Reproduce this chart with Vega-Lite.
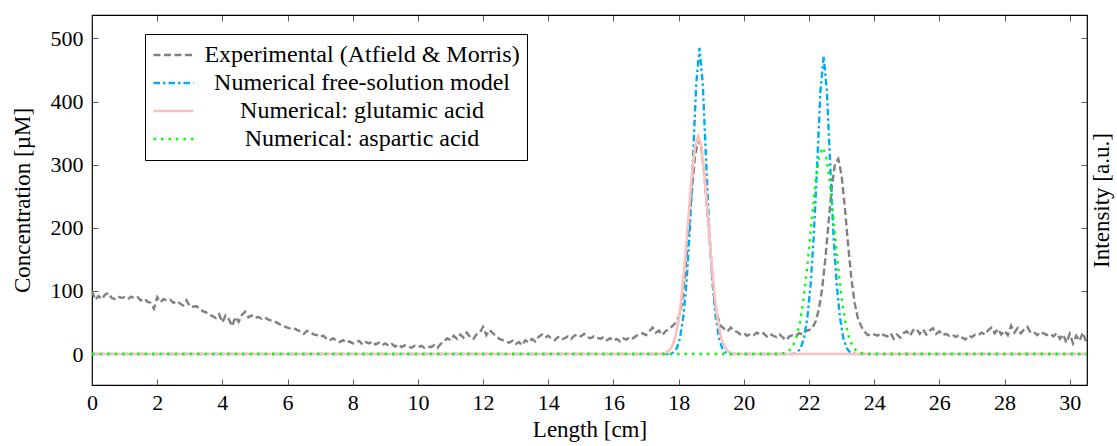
{
  "$schema": "https://vega.github.io/schema/vega-lite/v6.json",
  "width": 995,
  "height": 370,
  "autosize": {"type": "none"},
  "padding": {"left": 92, "top": 15, "right": 30, "bottom": 61},
  "background": "white",
  "config": {
    "font": "Liberation Serif",
    "view": {"stroke": "black", "strokeWidth": 1.2},
    "axis": {
      "labelFont": "Liberation Serif", "labelFontSize": 22, "labelColor": "black",
      "titleFont": "Liberation Serif", "titleFontSize": 23, "titleFontWeight": "normal", "titleColor": "black",
      "tickColor": "#333", "tickSize": -6, "tickWidth": 0.8, "domain": false, "grid": false, "labelFlush": false
    }
  },
  "datasets": {
    "exp": [
      {"x":0.0,"y":100},{"x":0.1,"y":86},{"x":0.2,"y":92},{"x":0.3,"y":87},{"x":0.4,"y":94},{"x":0.5,"y":97},{"x":0.6,"y":89},{"x":0.7,"y":87},{"x":0.8,"y":91},{"x":0.9,"y":89},
      {"x":1.0,"y":90},{"x":1.1,"y":87},{"x":1.2,"y":91},{"x":1.3,"y":88},{"x":1.4,"y":90},{"x":1.5,"y":85},{"x":1.6,"y":88},{"x":1.7,"y":83},{"x":1.8,"y":81},{"x":1.9,"y":72},
      {"x":2.0,"y":90},{"x":2.1,"y":82},{"x":2.2,"y":87},{"x":2.3,"y":85},{"x":2.4,"y":86},{"x":2.5,"y":81},{"x":2.6,"y":84},{"x":2.7,"y":80},{"x":2.8,"y":77},{"x":2.9,"y":85},
      {"x":3.0,"y":76},{"x":3.1,"y":75},{"x":3.2,"y":76},{"x":3.3,"y":72},{"x":3.4,"y":68},{"x":3.5,"y":66},{"x":3.6,"y":62},{"x":3.7,"y":60},{"x":3.8,"y":57},{"x":3.9,"y":63},
      {"x":4.0,"y":50},{"x":4.1,"y":61},{"x":4.2,"y":55},{"x":4.3,"y":44},{"x":4.4,"y":59},{"x":4.5,"y":51},{"x":4.6,"y":62},{"x":4.7,"y":67},{"x":4.8,"y":58},{"x":4.9,"y":61},
      {"x":5.0,"y":57},{"x":5.1,"y":59},{"x":5.2,"y":56},{"x":5.3,"y":58},{"x":5.4,"y":55},{"x":5.5,"y":53},{"x":5.6,"y":52},{"x":5.7,"y":49},{"x":5.8,"y":46},{"x":5.9,"y":44},
      {"x":6.0,"y":42},{"x":6.1,"y":40},{"x":6.2,"y":41},{"x":6.3,"y":38},{"x":6.4,"y":36},{"x":6.5,"y":32},{"x":6.6,"y":37},{"x":6.7,"y":35},{"x":6.8,"y":31},{"x":6.9,"y":30},
      {"x":7.0,"y":27},{"x":7.1,"y":29},{"x":7.2,"y":24},{"x":7.3,"y":22},{"x":7.4,"y":25},{"x":7.5,"y":21},{"x":7.6,"y":19},{"x":7.7,"y":22},{"x":7.8,"y":18},{"x":7.9,"y":20},
      {"x":8.0,"y":17},{"x":8.1,"y":19},{"x":8.2,"y":21},{"x":8.3,"y":15},{"x":8.4,"y":19},{"x":8.5,"y":17},{"x":8.6,"y":20},{"x":8.7,"y":15},{"x":8.8,"y":18},{"x":8.9,"y":14},
      {"x":9.0,"y":17},{"x":9.1,"y":13},{"x":9.2,"y":16},{"x":9.3,"y":12},{"x":9.4,"y":15},{"x":9.5,"y":11},{"x":9.6,"y":14},{"x":9.7,"y":12},{"x":9.8,"y":10},{"x":9.9,"y":13},
      {"x":10.0,"y":11},{"x":10.1,"y":13},{"x":10.2,"y":10},{"x":10.3,"y":12},{"x":10.4,"y":11},{"x":10.5,"y":14},{"x":10.6,"y":10},{"x":10.7,"y":16},{"x":10.8,"y":20},{"x":10.9,"y":25},
      {"x":11.0,"y":22},{"x":11.1,"y":29},{"x":11.2,"y":24},{"x":11.3,"y":31},{"x":11.4,"y":26},{"x":11.5,"y":34},{"x":11.6,"y":27},{"x":11.7,"y":24},{"x":11.8,"y":31},{"x":11.9,"y":34},
      {"x":12.0,"y":43},{"x":12.1,"y":30},{"x":12.2,"y":38},{"x":12.3,"y":33},{"x":12.4,"y":28},{"x":12.5,"y":24},{"x":12.6,"y":22},{"x":12.7,"y":20},{"x":12.8,"y":18},{"x":12.9,"y":21},
      {"x":13.0,"y":16},{"x":13.1,"y":19},{"x":13.2,"y":14},{"x":13.3,"y":22},{"x":13.4,"y":18},{"x":13.5,"y":24},{"x":13.6,"y":20},{"x":13.7,"y":27},{"x":13.8,"y":31},{"x":13.9,"y":26},
      {"x":14.0,"y":29},{"x":14.1,"y":24},{"x":14.2,"y":22},{"x":14.3,"y":27},{"x":14.4,"y":23},{"x":14.5,"y":25},{"x":14.6,"y":28},{"x":14.7,"y":24},{"x":14.8,"y":29},{"x":14.9,"y":31},
      {"x":15.0,"y":28},{"x":15.1,"y":32},{"x":15.2,"y":27},{"x":15.3,"y":25},{"x":15.4,"y":28},{"x":15.5,"y":26},{"x":15.6,"y":24},{"x":15.7,"y":27},{"x":15.8,"y":22},{"x":15.9,"y":25},
      {"x":16.0,"y":21},{"x":16.1,"y":24},{"x":16.2,"y":20},{"x":16.3,"y":25},{"x":16.4,"y":23},{"x":16.5,"y":27},{"x":16.6,"y":25},{"x":16.7,"y":29},{"x":16.8,"y":31},{"x":16.9,"y":33},
      {"x":17.0,"y":30},{"x":17.1,"y":36},{"x":17.2,"y":42},{"x":17.3,"y":34},{"x":17.4,"y":37},{"x":17.5,"y":30},{"x":17.6,"y":36},{"x":17.7,"y":40},{"x":17.8,"y":44},{"x":17.9,"y":49},
      {"x":18.0,"y":58},{"x":18.1,"y":80},{"x":18.2,"y":129},{"x":18.3,"y":189},{"x":18.4,"y":255},{"x":18.5,"y":312},{"x":18.6,"y":339},{"x":18.7,"y":325},{"x":18.8,"y":279},{"x":18.9,"y":213},
      {"x":19.0,"y":148},{"x":19.1,"y":85},{"x":19.2,"y":58},{"x":19.3,"y":44},{"x":19.4,"y":40},{"x":19.5,"y":36},{"x":19.6,"y":42},{"x":19.7,"y":37},{"x":19.8,"y":35},{"x":19.9,"y":31},
      {"x":20.0,"y":33},{"x":20.1,"y":29},{"x":20.2,"y":32},{"x":20.3,"y":30},{"x":20.4,"y":34},{"x":20.5,"y":31},{"x":20.6,"y":33},{"x":20.7,"y":28},{"x":20.8,"y":32},{"x":20.9,"y":29},
      {"x":21.0,"y":27},{"x":21.1,"y":31},{"x":21.2,"y":26},{"x":21.3,"y":22},{"x":21.4,"y":28},{"x":21.5,"y":30},{"x":21.6,"y":29},{"x":21.7,"y":33},{"x":21.8,"y":31},{"x":21.9,"y":37},
      {"x":22.0,"y":38},{"x":22.1,"y":41},{"x":22.2,"y":51},{"x":22.3,"y":70},{"x":22.4,"y":102},{"x":22.5,"y":150},{"x":22.6,"y":208},{"x":22.7,"y":265},{"x":22.8,"y":302},{"x":22.9,"y":309},
      {"x":23.0,"y":283},{"x":23.1,"y":232},{"x":23.2,"y":173},{"x":23.3,"y":120},{"x":23.4,"y":81},{"x":23.5,"y":57},{"x":23.6,"y":44},{"x":23.7,"y":36},{"x":23.8,"y":30},{"x":23.9,"y":32},
      {"x":24.0,"y":31},{"x":24.1,"y":29},{"x":24.2,"y":33},{"x":24.3,"y":30},{"x":24.4,"y":28},{"x":24.5,"y":33},{"x":24.6,"y":24},{"x":24.7,"y":31},{"x":24.8,"y":26},{"x":24.9,"y":33},
      {"x":25.0,"y":36},{"x":25.1,"y":29},{"x":25.2,"y":38},{"x":25.3,"y":40},{"x":25.4,"y":32},{"x":25.5,"y":39},{"x":25.6,"y":31},{"x":25.7,"y":37},{"x":25.8,"y":41},{"x":25.9,"y":32},
      {"x":26.0,"y":36},{"x":26.1,"y":30},{"x":26.2,"y":32},{"x":26.3,"y":29},{"x":26.4,"y":31},{"x":26.5,"y":27},{"x":26.6,"y":30},{"x":26.7,"y":26},{"x":26.8,"y":23},{"x":26.9,"y":29},
      {"x":27.0,"y":27},{"x":27.1,"y":31},{"x":27.2,"y":30},{"x":27.3,"y":34},{"x":27.4,"y":31},{"x":27.5,"y":38},{"x":27.6,"y":42},{"x":27.7,"y":33},{"x":27.8,"y":40},{"x":27.9,"y":31},
      {"x":28.0,"y":37},{"x":28.1,"y":30},{"x":28.2,"y":45},{"x":28.3,"y":34},{"x":28.4,"y":41},{"x":28.5,"y":33},{"x":28.6,"y":39},{"x":28.7,"y":43},{"x":28.8,"y":34},{"x":28.9,"y":35},
      {"x":29.0,"y":30},{"x":29.1,"y":35},{"x":29.2,"y":33},{"x":29.3,"y":30},{"x":29.4,"y":32},{"x":29.5,"y":28},{"x":29.6,"y":33},{"x":29.7,"y":24},{"x":29.8,"y":31},{"x":29.9,"y":18},
      {"x":30.0,"y":32},{"x":30.1,"y":17},{"x":30.2,"y":29},{"x":30.3,"y":21},{"x":30.4,"y":34},{"x":30.5,"y":20}
    ],
    "free": [
      {"x":0,"y":0},{"x":17.64,"y":0},{"x":17.74,"y":0.5},{"x":17.84,"y":2.5},{"x":17.94,"y":9},{"x":18.04,"y":25},{"x":18.14,"y":58},{"x":18.24,"y":112},{"x":18.34,"y":195},{"x":18.44,"y":310},{"x":18.54,"y":428},
      {"x":18.64,"y":485},{"x":18.74,"y":428},{"x":18.84,"y":310},{"x":18.94,"y":195},{"x":19.04,"y":112},{"x":19.14,"y":58},{"x":19.24,"y":25},{"x":19.34,"y":9},{"x":19.44,"y":2.5},{"x":19.54,"y":0.5},{"x":19.64,"y":0},
      {"x":21.45,"y":0},{"x":21.55,"y":0.5},{"x":21.65,"y":3},{"x":21.75,"y":10},{"x":21.85,"y":26},{"x":21.95,"y":58},{"x":22.05,"y":110},{"x":22.15,"y":190},{"x":22.25,"y":300},{"x":22.35,"y":415},
      {"x":22.45,"y":472},{"x":22.55,"y":415},{"x":22.65,"y":300},{"x":22.75,"y":190},{"x":22.85,"y":110},{"x":22.95,"y":58},{"x":23.05,"y":26},{"x":23.15,"y":10},{"x":23.25,"y":3},{"x":23.35,"y":0.5},{"x":23.45,"y":0},
      {"x":30.53,"y":0}
    ],
    "glu": [
      {"x":0,"y":0},{"x":17.4,"y":0},{"x":17.5,"y":0.6},{"x":17.6,"y":1.9},{"x":17.7,"y":5},{"x":17.8,"y":12},{"x":17.9,"y":27},{"x":18.0,"y":53},{"x":18.1,"y":94},{"x":18.2,"y":150},{"x":18.3,"y":216},{"x":18.4,"y":280},{"x":18.5,"y":328},
      {"x":18.6,"y":345},{"x":18.7,"y":328},{"x":18.8,"y":280},{"x":18.9,"y":216},{"x":19.0,"y":150},{"x":19.1,"y":94},{"x":19.2,"y":53},{"x":19.3,"y":27},{"x":19.4,"y":12},{"x":19.5,"y":5},{"x":19.6,"y":1.9},{"x":19.7,"y":0.6},{"x":19.8,"y":0},
      {"x":30.53,"y":0}
    ],
    "asp": [
      {"x":0,"y":0},{"x":21.12,"y":0},{"x":21.22,"y":1.3},{"x":21.32,"y":3},{"x":21.42,"y":7},{"x":21.52,"y":14},{"x":21.62,"y":28},{"x":21.72,"y":49},{"x":21.82,"y":82},{"x":21.92,"y":125},{"x":22.02,"y":176},{"x":22.12,"y":231},{"x":22.22,"y":280},{"x":22.32,"y":315},
      {"x":22.42,"y":327},{"x":22.52,"y":315},{"x":22.62,"y":280},{"x":22.72,"y":231},{"x":22.82,"y":176},{"x":22.92,"y":125},{"x":23.02,"y":82},{"x":23.12,"y":49},{"x":23.22,"y":28},{"x":23.32,"y":14},{"x":23.42,"y":7},{"x":23.52,"y":3},{"x":23.62,"y":1.3},{"x":23.72,"y":0},
      {"x":30.53,"y":0}
    ]
  },
  "layer": [
    {
      "data": {"name": "exp"},
      "mark": {"type": "line", "strokeWidth": 2.4, "clip": true},
      "encoding": {
        "x": {"field": "x", "type": "quantitative", "scale": {"domain": [0, 30.53], "nice": false, "zero": false},
              "axis": {"orient": "bottom", "values": [0,2,4,6,8,10,12,14,16,18,20,22,24,26,28,30], "format": "d", "labelPadding": 13.5, "title": "Length [cm]", "titlePadding": 5}},
        "y": {"field": "y", "type": "quantitative", "scale": {"domain": [-49, 537], "nice": false, "zero": false},
              "axis": {"orient": "left", "values": [0,100,200,300,400,500], "format": "d", "labelPadding": 15, "title": "Concentration [µM]", "titlePadding": 16}},
        "color": {"datum": "Experimental (Atfield & Morris)", "type": "nominal",
          "scale": {"domain": ["Experimental (Atfield & Morris)", "Numerical free-solution model", "Numerical: glutamic acid", "Numerical: aspartic acid"],
                    "range": ["#808080", "#00aeef", "#ffbfbf", "#00ff00"]},
          "legend": {"title": null, "orient": "none", "legendX": 53, "legendY": 19, "strokeColor": "black", "fillColor": "white", "padding": 7,
                     "symbolType": "stroke", "symbolSize": 1600, "symbolStrokeWidth": 2.4, "clipHeight": 28, "rowPadding": 0,
                     "labelFont": "Liberation Serif", "labelFontSize": 24, "labelColor": "black", "labelAlign": "center", "labelOffset": 167, "labelLimit": 0}},
        "strokeDash": {"datum": "Experimental (Atfield & Morris)", "type": "nominal",
          "scale": {"domain": ["Experimental (Atfield & Morris)", "Numerical free-solution model", "Numerical: glutamic acid", "Numerical: aspartic acid"],
                    "range": [[7, 3.5], [6.5, 3, 2.5, 3], [1, 0], [2.5, 5]]},
          "legend": {"title": null, "orient": "none", "legendX": 53, "legendY": 19, "strokeColor": "black", "fillColor": "white", "padding": 7,
                     "symbolType": "stroke", "symbolSize": 1600, "symbolStrokeWidth": 2.4, "clipHeight": 28, "rowPadding": 0,
                     "labelFont": "Liberation Serif", "labelFontSize": 24, "labelColor": "black", "labelAlign": "center", "labelOffset": 167, "labelLimit": 0}}
      }
    },
    {
      "data": {"name": "free"},
      "mark": {"type": "line", "strokeWidth": 2.4, "clip": true},
      "encoding": {
        "x": {"field": "x", "type": "quantitative", "axis": null},
        "y": {"field": "y", "type": "quantitative", "axis": null},
        "color": {"datum": "Numerical free-solution model", "type": "nominal"},
        "strokeDash": {"datum": "Numerical free-solution model", "type": "nominal"}
      }
    },
    {
      "data": {"name": "glu"},
      "mark": {"type": "line", "strokeWidth": 2.6, "clip": true},
      "encoding": {
        "x": {"field": "x", "type": "quantitative", "axis": null},
        "y": {"field": "y", "type": "quantitative", "axis": null},
        "color": {"datum": "Numerical: glutamic acid", "type": "nominal"},
        "strokeDash": {"datum": "Numerical: glutamic acid", "type": "nominal"}
      }
    },
    {
      "data": {"name": "asp"},
      "mark": {"type": "line", "strokeWidth": 2.4, "clip": true},
      "encoding": {
        "x": {"field": "x", "type": "quantitative", "axis": null},
        "y": {"field": "y", "type": "quantitative", "axis": null},
        "color": {"datum": "Numerical: aspartic acid", "type": "nominal"},
        "strokeDash": {"datum": "Numerical: aspartic acid", "type": "nominal"}
      }
    },
    {
      "data": {"name": "asp"},
      "mark": {"type": "point", "opacity": 0},
      "encoding": {
        "x": {"field": "x", "type": "quantitative",
              "axis": {"orient": "top", "values": [0,2,4,6,8,10,12,14,16,18,20,22,24,26,28,30], "labels": false, "title": null}},
        "y": {"field": "y", "type": "quantitative",
              "axis": {"orient": "right", "values": [0,100,200,300,400,500], "labels": false, "title": "Intensity [a.u.]", "titleAngle": 270, "titleBaseline": "top", "titlePadding": 3}}
      }
    }
  ],
  "resolve": {"axis": {"x": "independent", "y": "independent"}}
}
